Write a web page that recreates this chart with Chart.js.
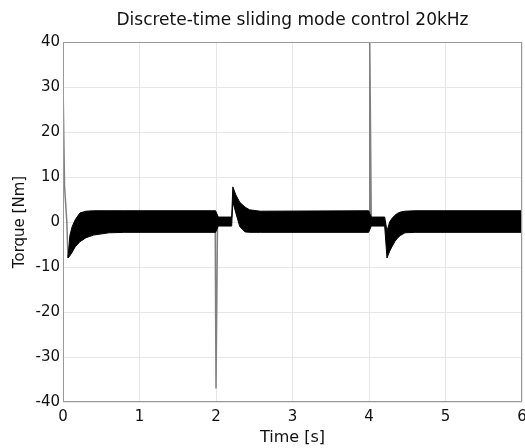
<!DOCTYPE html>
<html>
<head>
<meta charset="utf-8">
<script src="https://cdn.jsdelivr.net/npm/chart.js@4"></script>
<style>
  html, body { margin: 0; padding: 0; background: #fff; }
  #wrap { width: 525px; height: 448px; }
</style>
</head>
<body>
<div id="wrap"><canvas id="c" width="525" height="448"></canvas></div>
<script>
// ---- data ----
const chartTitle = 'Discrete-time sliding mode control 20kHz';
const xLabel = 'Time [s]';
const yLabel = 'Torque [Nm]';
const xTicks = [0, 1, 2, 3, 4, 5, 6];
const yTicks = [-40, -30, -20, -10, 0, 10, 20, 30, 40];

// envelope of the chattering torque band (upper / lower edges)
const bandTime  = [0.065, 0.09, 0.12, 0.16, 0.22, 0.30, 0.40, 0.60, 0.80, 1.995,
                   2.03, 2.205, 2.22, 2.26, 2.31, 2.38, 2.44, 2.58, 3.995,
                   4.03, 4.205, 4.235, 4.27, 4.30, 4.34, 4.37, 4.41, 4.47, 4.60, 6.00];
const bandUpper = [-8.0, -3.0, -1.0, 0.5, 2.0, 2.4, 2.5, 2.5, 2.5, 2.5,
                   1.1, 1.1, 7.8, 6.0, 4.4, 3.3, 2.7, 2.4, 2.5,
                   1.1, 1.1, -2.0, 0.0, 0.8, 1.5, 1.9, 2.2, 2.4, 2.5, 2.5];
const bandLower = [-8.0, -7.5, -6.7, -5.5, -4.4, -3.5, -2.9, -2.4, -2.3, -2.3,
                   -0.9, -0.9, 4.5, 2.0, -1.0, -2.2, -2.3, -2.3, -2.3,
                   -0.9, -0.9, -8.0, -6.5, -5.5, -4.3, -3.6, -3.0, -2.4, -2.3, -2.3];

// switching spikes (null = break in the trace)
const spikeTime   = [0.0, 0.02, 0.05, 0.065, null, 1.99, 2.0, 2.02, null, 4.0, 4.01, 4.03];
const spikeTorque = [31, 8, 0, -8, null, -2, -37, 0, null, 2, 40, 0];

// ---- build datasets ----
const toXY = (xs, ys) => xs.map((x, i) => ({x: x, y: ys[i]}));

const boxPlugin = {
  id: 'box',
  afterDatasetsDraw(chart) {
    const a = chart.chartArea, ctx = chart.ctx;
    ctx.save();
    ctx.strokeStyle = '#9a9a9a';
    ctx.lineWidth = 1;
    ctx.strokeRect(Math.round(a.left) + 0.5, Math.round(a.top) + 0.5,
                   Math.round(a.right - a.left) - 1, Math.round(a.bottom - a.top) - 1);
    ctx.restore();
  }
};

const txt = '#111';

new Chart(document.getElementById('c'), {
  type: 'line',
  data: {
    datasets: [
      {
        label: 'upper',
        data: toXY(bandTime, bandUpper),
        borderColor: '#000', borderWidth: 1, pointRadius: 0, tension: 0, fill: false
      },
      {
        label: 'lower',
        data: toXY(bandTime, bandLower),
        borderColor: '#000', borderWidth: 1, pointRadius: 0, tension: 0,
        fill: '-1', backgroundColor: '#000'
      },
      {
        label: 'spikes',
        data: spikeTime.map((t, i) => ({x: t, y: spikeTorque[i]})),
        borderColor: '#808080', borderWidth: 1.5, pointRadius: 0, tension: 0,
        spanGaps: false, fill: false
      }
    ]
  },
  options: {
    responsive: false,
    animation: false,
    devicePixelRatio: 1,
    layout: { padding: { left: 0, right: 3, top: 0, bottom: 0 } },
    plugins: {
      legend: { display: false },
      tooltip: { enabled: false },
      title: {
        display: true,
        text: chartTitle,
        fullSize: false,
        color: txt,
        font: { family: 'DejaVu Sans', size: 17, weight: 'normal' },
        padding: { top: 10, bottom: 11.6 }
      }
    },
    scales: {
      x: {
        type: 'linear',
        min: 0, max: 6,
        afterBuildTicks(s) { s.ticks = xTicks.map(v => ({value: v})); },
        ticks: { color: txt, font: { family: 'DejaVu Sans', size: 15 }, padding: 6, maxRotation: 0, autoSkip: false },
        grid: { color: '#e6e6e6', drawTicks: false },
        border: { display: false },
        title: { display: true, text: xLabel, color: txt,
                 font: { family: 'DejaVu Sans', size: 16 }, padding: { top: 0, bottom: 1 } },
        afterFit(s) { s.height = 46; s.paddingLeft = 0; s.paddingRight = 0; }
      },
      y: {
        min: -40, max: 40,
        afterBuildTicks(s) { s.ticks = yTicks.map(v => ({value: v})); },
        ticks: { color: txt, font: { family: 'DejaVu Sans', size: 15 }, padding: 3, autoSkip: false },
        grid: { color: '#e6e6e6', drawTicks: false },
        border: { display: false },
        title: { display: true, text: yLabel, color: txt,
                 font: { family: 'DejaVu Sans', size: 15 }, padding: { top: 11, bottom: 0 } },
        afterFit(s) { s.width = 63; s.paddingTop = 0; s.paddingBottom = 0; }
      }
    }
  },
  plugins: [boxPlugin]
});
</script>
</body>
</html>
